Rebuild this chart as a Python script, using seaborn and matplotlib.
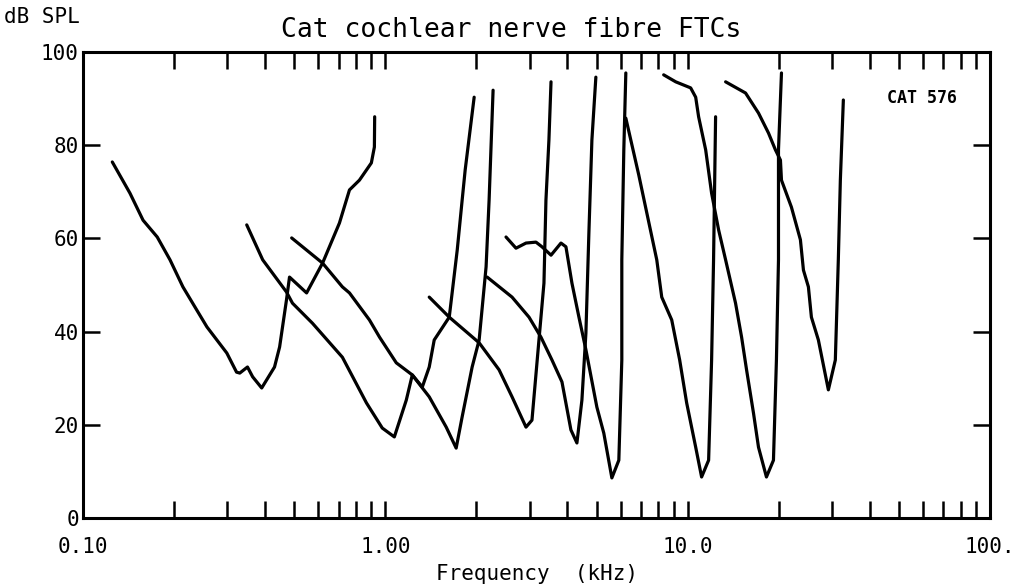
import matplotlib
matplotlib.use("Agg")
import matplotlib.pyplot as plt
from matplotlib.ticker import FixedLocator, NullFormatter
import numpy as np
import pandas as pd
import seaborn as sns

# ---- data: frequency-threshold curves (kHz, dB SPL) ----
fibre_names = ["A", "B", "C", "D", "E", "F", "G", "H", "I"]

A_khz = [0.125, 0.143, 0.158, 0.176, 0.194, 0.214, 0.238, 0.257, 0.299, 0.322, 0.330, 0.350, 0.364,
         0.390, 0.430, 0.447, 0.471, 0.482, 0.549, 0.620, 0.705, 0.761, 0.821, 0.899, 0.920, 0.922]
A_db = [76.4, 69.7, 63.9, 60.3, 55.4, 49.6, 44.6, 41.0, 35.4, 31.3, 31.1, 32.4, 30.3,
        27.9, 32.4, 36.7, 46.8, 51.7, 48.3, 54.7, 63.3, 70.4, 72.5, 76.2, 79.6, 86.1]

B_khz = [0.348, 0.393, 0.471, 0.493, 0.574, 0.721, 0.866, 0.977, 1.071, 1.173, 1.228, 1.325,
         1.397, 1.451, 1.627, 1.729, 1.795, 1.837, 1.967]
B_db = [62.9, 55.4, 48.5, 46.1, 41.8, 34.5, 24.7, 19.3, 17.4, 25.3, 30.7, 28.1,
        32.4, 38.2, 43.1, 57.5, 68.2, 74.7, 90.3]

C_khz = [0.490, 0.620, 0.721, 0.761, 0.886, 0.957, 1.087, 1.228, 1.397, 1.590, 1.715, 1.795,
         1.937, 2.043, 2.154, 2.204, 2.272]
C_db = [60.1, 54.7, 49.6, 48.3, 42.5, 38.8, 33.3, 30.7, 26.0, 19.5, 15.0, 21.7,
        32.4, 38.2, 53.9, 68.2, 91.8]

D_khz = [1.397, 1.627, 2.043, 2.378, 2.625, 2.919, 3.055, 3.222, 3.347, 3.398, 3.476, 3.532]
D_db = [47.4, 43.1, 37.6, 31.8, 26.0, 19.5, 21.0, 38.2, 50.4, 68.2, 81.1, 93.6]

E_khz = [2.171, 2.625, 2.987, 3.272, 3.558, 3.839, 4.110, 4.302, 4.469, 4.607, 4.713, 4.822, 4.970]
E_db = [51.7, 47.4, 43.1, 38.8, 33.9, 29.2, 18.9, 16.1, 25.3, 39.7, 61.2, 81.1, 94.6]

F_khz = [2.507, 2.705, 2.919, 3.149, 3.297, 3.532, 3.810, 3.957, 4.142, 4.369, 4.607, 5.008,
         5.280, 5.614, 5.920, 6.056, 6.056, 6.149, 6.244]
F_db = [60.3, 57.9, 59.0, 59.2, 58.2, 56.4, 59.0, 58.2, 50.4, 43.1, 36.1, 23.8,
        18.2, 8.6, 12.4, 33.9, 55.4, 79.0, 95.5]

G_khz = [6.244, 6.891, 7.435, 7.903, 8.208, 8.857, 9.410, 9.924, 10.63, 11.12, 11.73, 12.00, 12.18, 12.37]
G_db = [85.8, 73.6, 63.5, 55.4, 47.4, 42.5, 33.9, 24.7, 15.2, 8.8, 12.4, 33.9, 55.4, 86.1]

H_khz = [8.33, 9.13, 10.23, 10.63, 10.87, 11.47, 12.00, 12.66, 13.35, 14.40, 15.08, 15.66,
         16.51, 17.15, 18.22, 19.22, 19.66, 19.97, 19.97, 20.43]
H_db = [95.1, 93.6, 92.3, 90.3, 86.1, 79.0, 69.7, 61.8, 55.4, 46.1, 38.8, 31.8,
        22.5, 15.2, 8.8, 12.4, 33.9, 55.4, 79.0, 95.5]

I_khz = [13.35, 15.54, 17.15, 18.51, 19.51, 20.27, 20.43, 22.04, 23.60, 24.15, 25.08, 25.66,
         27.06, 29.20, 30.79, 31.50, 31.99, 32.73]
I_db = [93.6, 91.2, 86.9, 82.6, 79.0, 76.8, 72.5, 66.7, 59.7, 53.2, 49.6, 43.1,
        38.2, 27.5, 33.9, 55.4, 72.5, 89.7]

curve_khz = [A_khz, B_khz, C_khz, D_khz, E_khz, F_khz, G_khz, H_khz, I_khz]
curve_db = [A_db, B_db, C_db, D_db, E_db, F_db, G_db, H_db, I_db]

x_major = [0.1, 1, 10, 100]
x_major_labels = ["0.10", "1.00", "10.0", "100."]
x_minor = [0.2, 0.3, 0.4, 0.5, 0.6, 0.7, 0.8, 0.9, 2, 3, 4, 5, 6, 7, 8, 9,
           20, 30, 40, 50, 60, 70, 80, 90]
y_ticks = [0, 20, 40, 60, 80, 100]
y_labels = ["0", "20", "40", "60", "80", "100"]

title_text = "Cat cochlear nerve fibre FTCs"
ylabel_text = "dB SPL"
xlabel_text = "Frequency  (kHz)"
tag_text = "CAT 576"

# ---- long table ----
rows = []
for name, fk, db in zip(fibre_names, curve_khz, curve_db):
    for i, (f, d) in enumerate(zip(fk, db)):
        rows.append({"fibre": name, "order": i, "freq": f, "db": d})
df = pd.DataFrame(rows)

sns.set_theme(style="white")
plt.rcParams["font.family"] = ["DejaVu Sans Mono", "DejaVu Sans"]
plt.rcParams["text.color"] = "black"
plt.rcParams["axes.labelcolor"] = "black"
plt.rcParams["xtick.color"] = "black"
plt.rcParams["ytick.color"] = "black"

fig = plt.figure(figsize=(10.28, 5.88), dpi=100)
ax = fig.add_axes([83 / 1028, 70 / 588, 907 / 1028, 466 / 588])
ax.set_xscale("log")

sns.lineplot(data=df, x="freq", y="db", units="fibre", estimator=None, sort=False,
             color="black", linewidth=2.3, ax=ax, legend=False)

ax.set_xlim(0.1, 100)
ax.set_ylim(0, 100)
ax.set_xticks(x_major)
ax.set_xticklabels(x_major_labels)
ax.xaxis.set_minor_locator(FixedLocator(x_minor))
ax.xaxis.set_minor_formatter(NullFormatter())
ax.set_yticks(y_ticks)
ax.set_yticklabels(y_labels)
ax.tick_params(which="both", direction="in", length=12, width=1.8, color="black",
               top=True, right=True, bottom=True, left=True)
ax.tick_params(axis="x", which="major", labelsize=15, pad=14)
ax.tick_params(axis="y", which="major", labelsize=15, pad=3)
for s in ax.spines.values():
    s.set_visible(True)
    s.set_color("black")
    s.set_linewidth(2.2)

ax.set_xlabel(xlabel_text, fontsize=15, labelpad=5)
ax.set_ylabel("")
ax.grid(False)

fig.text(0.497, 0.949, title_text, ha="center", va="center", fontsize=19)
fig.text(0.004, 0.971, ylabel_text, ha="left", va="center", fontsize=15)
ax.text(0.925, 0.902, tag_text, transform=ax.transAxes, ha="center", va="center",
        fontsize=12, fontweight="bold")

fig.savefig("out.png", dpi=100, facecolor="white")
